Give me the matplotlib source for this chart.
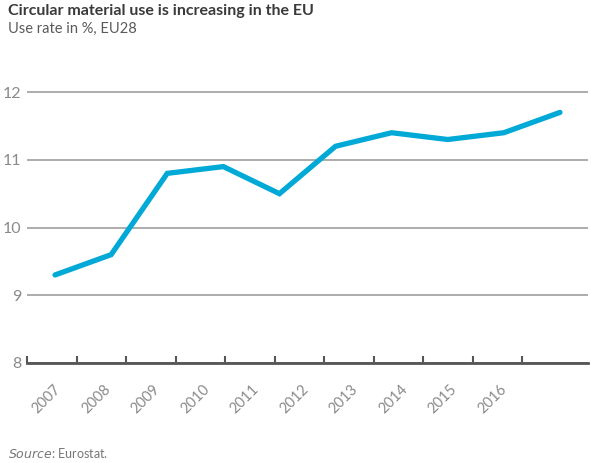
import matplotlib.pyplot as plt
import numpy as np

years = ['2007', '2008', '2009', '2010', '2011', '2012', '2013', '2014', '2015', '2016']
rate = [9.3, 9.6, 10.8, 10.9, 10.5, 11.2, 11.4, 11.3, 11.4, 11.7]

plt.rcParams['font.family'] = ['Lato', 'DejaVu Sans']

W, H = 591, 463
fig = plt.figure(figsize=(W / 100, H / 100), dpi=100)
ax = fig.add_axes([27 / W, 1 - 363 / H, (588 - 27) / W, (363 - 65) / H])

x = np.arange(len(years)) + 0.5
ax.plot(x, rate, color='#00A9D6', lw=3.8, solid_capstyle='round', solid_joinstyle='miter', zorder=3)

ax.set_xlim(0, len(years))
ax.set_ylim(8, 12.4)
ax.set_yticks([8, 9, 10, 11, 12])
ax.yaxis.grid(True, color='#a6a6a6', lw=1.3)
ax.set_axisbelow(True)

# tick marks in the source are spaced a bit tighter than the category bands
step = 49.5 / 56.1
ax.set_xticks(np.arange(11) * step)
ax.set_xticklabels([])
ax.set_xticks((np.arange(10) + 0.5) * step + 0.04, minor=True)
ax.set_xticklabels(years, minor=True, rotation=45, ha='right', va='top',
                   rotation_mode='anchor', color='#8a8a8a', fontsize=10.5)
ax.tick_params(axis='x', which='major', length=5, width=1.5, color='#555555', direction='in', pad=0)
ax.tick_params(axis='x', which='minor', length=0, pad=14)
ax.tick_params(axis='y', length=0, pad=4, labelcolor='#8a8a8a', labelsize=11.5)

for s in ['top', 'right', 'left']:
    ax.spines[s].set_visible(False)
ax.spines['bottom'].set_color('#555555')
ax.spines['bottom'].set_linewidth(2)

fig.text(8 / W, 1 - 11 / H, 'Circular material use is increasing in the EU', fontsize=11.5,
         fontweight='bold', color='#3a3a3a', va='center')
fig.text(8 / W, 1 - 29 / H, 'Use rate in %, EU28', fontsize=10.5, color='#5a5a5a', va='center')
fig.text(8 / W, 1 - 453 / H, r'$\it{Source}$: Eurostat.', fontsize=9, color='#777777', va='center')

fig.savefig('out.png', dpi=100)
